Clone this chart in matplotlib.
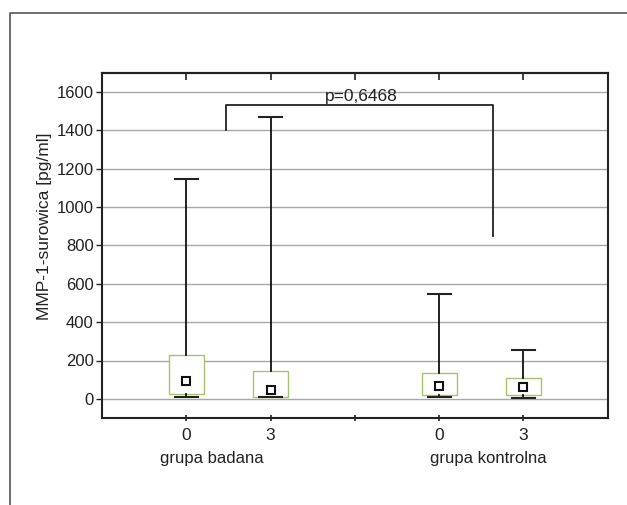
import matplotlib
matplotlib.use("Agg")
import matplotlib.pyplot as plt
from matplotlib.lines import Line2D

plt.rcParams['font.family'] = ['Liberation Sans', 'DejaVu Sans']

# data
positions = [1, 2, 4, 5]
tick_labels = ["0", "3", "0", "3"]
box_low = [26, 12, 21, 21]
box_high = [229, 146, 134, 108]
means = [95, 45, 69, 64]
whisker_low = [10, 7, 7, 2]
whisker_high = [1147, 1470, 548, 257]
group_names = ["grupa badana", "grupa kontrolna"]
p_text = "p=0,6468"

W, H = 627, 505
fig = plt.figure(figsize=(W / 100, H / 100), dpi=100)
ax = fig.add_axes([102 / W, 1 - 418 / H, (607.7 - 102) / W, (418 - 73) / H])

# outer frame (only top and left visible)
fig.add_artist(Line2D([10 / W, 10 / W, 1.0], [0.0, 1 - 13 / H, 1 - 13 / H],
                      transform=fig.transFigure, color="#555555", lw=1.2))

ax.set_xlim(0, 6)
ax.set_ylim(-100, 1700)
ax.set_yticks(range(0, 1601, 200))
ax.yaxis.grid(True, color="#a8a8a8", lw=1.0)
ax.set_axisbelow(True)

box_w = 0.415
cap_w = 0.27
green = "#a9c26e"
for x, lo, hi, m, wl, wh in zip(positions, box_low, box_high, means, whisker_low, whisker_high):
    ax.bar(x, hi - lo, bottom=lo, width=box_w, color="white", edgecolor=green, lw=1.0, zorder=2)
    ax.plot([x, x], [hi, wh], color="#111111", lw=1.3, zorder=3)
    ax.plot([x, x], [wl, lo], color="#111111", lw=1.3, zorder=3)
    ax.plot([x - cap_w / 2, x + cap_w / 2], [wh, wh], color="#222222", lw=1.5, zorder=3)
    ax.plot([x - cap_w / 2, x + cap_w / 2], [wl, wl], color="#222222", lw=1.5, zorder=3)
    ax.plot(x, m, marker="s", ms=5.5, mfc="white", mec="#111111", mew=1.5, zorder=4)

# significance bracket
ax.plot([1.475, 1.475, 4.64, 4.64], [1400, 1532, 1532, 850], color="#222222", lw=1.3, zorder=3)
ax.text(3.08, 1553, p_text, ha="center", va="baseline", fontsize=12.5, color="#222222")

ax.set_xticks([1, 2, 3, 4, 5])
ax.set_xticklabels(tick_labels[:2] + [""] + tick_labels[2:])
ax.tick_params(axis="x", direction="inout", length=5, width=1.2, labelsize=12.5,
               pad=5, colors="#222222")
ax.tick_params(axis="y", direction="out", length=4, width=1.0, labelsize=12, pad=2,
               colors="#222222")

# top ticks point inward only
top = ax.secondary_xaxis("top")
top.set_xticks([1, 2, 3, 4, 5])
top.tick_params(direction="in", length=5, width=1.2, labeltop=False, colors="#222222")
top.spines["top"].set_linewidth(1.5)
top.spines["top"].set_color("#222222")

for s in ax.spines.values():
    s.set_color("#222222")
    s.set_linewidth(1.5)

fig.text(212 / W, 1 - 458 / H, group_names[0], ha="center", va="center", fontsize=12, color="#222222")
fig.text(488 / W, 1 - 458 / H, group_names[1], ha="center", va="center", fontsize=12, color="#222222")
fig.text(45 / W, 1 - 320 / H, "MMP-1-surowica [pg/ml]", rotation=90, ha="center", va="bottom",
         fontsize=12.5, color="#222222")

fig.savefig("out.png", dpi=100)
